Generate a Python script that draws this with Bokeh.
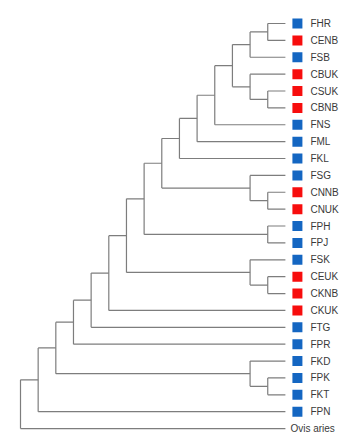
from bokeh.plotting import figure
from bokeh.models import Range1d, ColumnDataSource
from bokeh.embed import file_html
from bokeh.resources import INLINE
from bokeh.core.properties import value

# Tree topology (cladogram, leaves aligned)
tree_newick = ("(((((((((((((((FHR,CENB),FSB),(CBUK,(CSUK,CBNB))),FNS),FML),FKL),"
               "(FSG,(CNNB,CNUK))),(FPH,FPJ)),(FSK,(CEUK,CKNB))),CKUK),FTG),FPR),"
               "(FKD,(FPK,FKT))),FPN),Ovis aries)")

# Group of each tip: F = blue, C = red, none for outgroup
leaf_names = ["FHR", "CENB", "FSB", "CBUK", "CSUK", "CBNB", "FNS", "FML", "FKL",
              "FSG", "CNNB", "CNUK", "FPH", "FPJ", "FSK", "CEUK", "CKNB", "CKUK",
              "FTG", "FPR", "FKD", "FPK", "FKT", "FPN", "Ovis aries"]
leaf_groups = ["F", "C", "F", "C", "C", "C", "F", "F", "F",
               "F", "C", "C", "F", "F", "F", "C", "C", "C",
               "F", "F", "F", "F", "F", "F", ""]
group_colors = {"F": "#1466c2", "C": "#f70d0d"}


def parse(s):
    pos = 0

    def node():
        nonlocal pos
        if s[pos] == "(":
            pos += 1
            kids = [node()]
            while s[pos] == ",":
                pos += 1
                kids.append(node())
            pos += 1
            return kids
        start = pos
        while pos < len(s) and s[pos] not in ",()":
            pos += 1
        return s[start:pos]

    return node()


tree = parse(tree_newick)


def height(n):
    return 0 if isinstance(n, str) else 1 + max(height(c) for c in n)


H = height(tree)
order = []
x0, y0, x1, y1 = [], [], [], []


def layout(n):
    if isinstance(n, str):
        y = len(order)
        order.append(n)
        return H, y
    x = H - height(n)
    ch = [layout(c) for c in n]
    ys = [c[1] for c in ch]
    for cx, cy in ch:
        x0.append(x); y0.append(cy); x1.append(cx); y1.append(cy)
    x0.append(x); y0.append(min(ys)); x1.append(x); y1.append(max(ys))
    return x, sum(ys) / len(ys)


layout(tree)
leaf_y = {name: i for i, name in enumerate(order)}

p = figure(width=342, height=438, output_backend="svg", toolbar_location=None,
           x_range=Range1d(-1.1325, 18.233), y_range=Range1d(24.59, -1.363),
           min_border=0)
p.axis.visible = False
p.grid.visible = False
p.outline_line_color = None

p.segment(x0=x0, y0=y0, x1=x1, y1=y1, line_color="#7d7d7d", line_width=1.2)

sq = ColumnDataSource(dict(
    x=[H + 0.68 for g in leaf_groups if g],
    y=[leaf_y[n] for n, g in zip(leaf_names, leaf_groups) if g],
    c=[group_colors[g] for g in leaf_groups if g]))
p.scatter(x="x", y="y", source=sq, marker="square", size=10,
          fill_color="c", line_color=None)

lab = ColumnDataSource(dict(
    x=[H] * len(leaf_names),
    y=[leaf_y[n] for n in leaf_names],
    t=leaf_names,
    off=[25 if g else 5 for g in leaf_groups]))
p.text(x="x", y="y", text="t", x_offset="off", source=lab,
       text_font=value("Liberation Sans"), text_font_size="10px",
       text_color="#3a3a3a", text_baseline="middle", text_align="left")

open("out.html", "w").write(file_html(p, INLINE))
